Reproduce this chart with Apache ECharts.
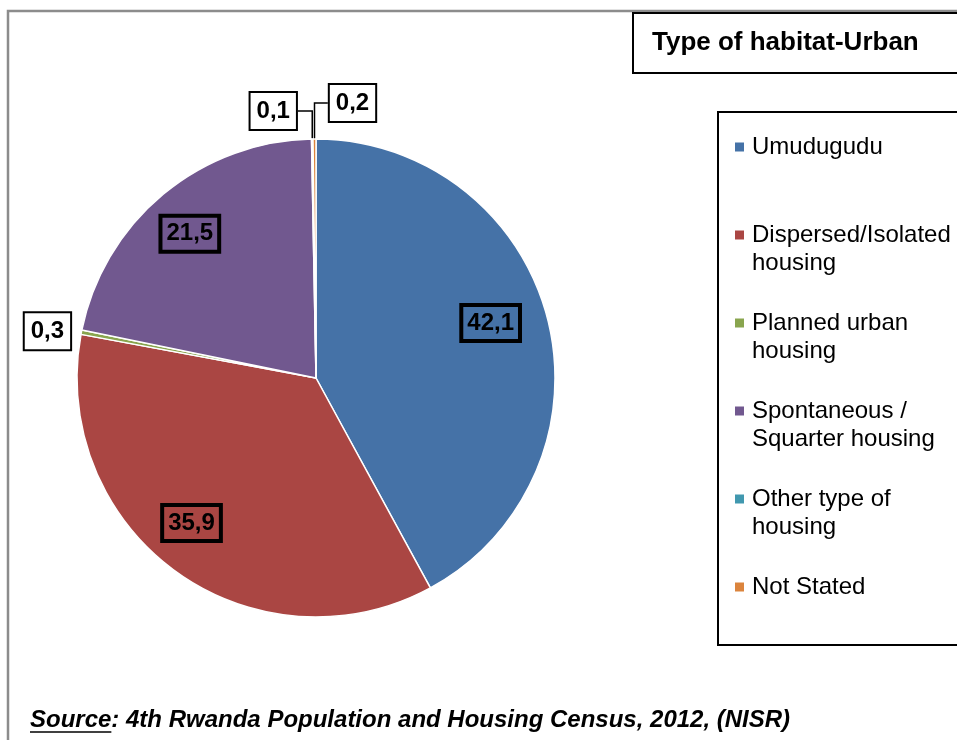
<!DOCTYPE html>
<html>
<head>
<meta charset="utf-8">
<script src="https://cdn.jsdelivr.net/npm/echarts@6/dist/echarts.min.js"></script>
<style>
html, body { margin: 0; padding: 0; background: #fff; }
#chart { width: 957px; height: 740px; }
</style>
</head>
<body>
<div id="chart"></div>
<script>
const categories = ['Umudugudu', 'Dispersed/Isolated\nhousing', 'Planned urban\nhousing', 'Spontaneous /\nSquarter housing', 'Other type of\nhousing', 'Not Stated']
const values = [42.1, 35.9, 0.3, 21.5, 0.1, 0.2]
const valueLabels = ['42,1', '35,9', '0,3', '21,5', '0,1', '0,2']
const colors = ['#4572A7', '#AA4643', '#89A54E', '#71588F', '#4198AF', '#DB843D']
const titleText = 'Type of habitat-Urban'
const sourceLabel = 'Source'
const sourceText = ': 4th Rwanda Population and Housing Census, 2012, (NISR)'

const FONT = "'Liberation Sans', Arial, sans-serif"
const cx = 316, cy = 378, R = 239
// where each value label sits: inside the slice or off the rim, plus a nudge
const labelPlace = [['in', -6, -9], ['in', -15, -6], ['out', -34, -1], ['in', -7, -1], ['out', -39, -28], ['out', 38, -36]]

const total = values.reduce((a, b) => a + b, 0)
const midAngles = []
let acc = 0
values.forEach(v => { midAngles.push((acc + v / 2) / total * Math.PI * 2); acc += v })

const chart = echarts.init(document.getElementById('chart'))

// legend: coloured square drawn as a rich token so it sits on the first line
const rich = {
  t: { fontSize: 24, lineHeight: 28, height: 28, padding: [0, 0, 0, 8], fontFamily: FONT, color: '#000' },
  s: { fontSize: 24, lineHeight: 28, height: 28, padding: [0, 0, 0, 17], fontFamily: FONT, color: '#000' },
}
colors.forEach((c, i) => { rich['i' + i] = { width: 9, height: 9, backgroundColor: c, lineHeight: 28 } })

// underline width for "Source"
const SRC_SIZE = 24
const ctx = document.createElement('canvas').getContext('2d')
ctx.font = `italic bold ${SRC_SIZE}px 'Liberation Sans'`
const underlineW = ctx.measureText(sourceLabel).width

const data = values.map((v, i) => {
  const out = labelPlace[i][0] === 'out'
  return {
    name: categories[i],
    value: v,
    label: {
      formatter: valueLabels[i],
      position: out ? 'outside' : 'inside',
      backgroundColor: out ? '#fff' : 'transparent',
    },
    labelLine: { show: out && i !== 2 },
  }
})

chart.setOption({
  animation: false,
  color: colors,
  title: {
    text: titleText,
    left: 633,
    top: 13,
    padding: [16, 60, 16, 19],
    borderColor: '#000',
    borderWidth: 2,
    textStyle: { fontSize: 26, fontWeight: 'bold', color: '#000', fontFamily: FONT, lineHeight: 28 },
  },
  legend: {
    orient: 'vertical',
    left: 718,
    top: 112,
    icon: 'none',
    itemWidth: 0,
    itemHeight: 9,
    itemGap: 32,
    borderColor: '#000',
    borderWidth: 2,
    padding: [21, 40, 16, 12],
    selectedMode: false,
    data: categories,
    formatter: name => {
      const i = categories.indexOf(name)
      const [l1, l2] = name.split('\n')
      return `{i${i}| }{t|${l1}}\n{s|${l2 || ' '}}`
    },
    textStyle: { rich },
  },
  graphic: [
    {
      type: 'rect', silent: true, z: -10,
      shape: { x: 8, y: 11, width: 1400, height: 1400 },
      style: { fill: 'none', stroke: '#8c8c8c', lineWidth: 2.5 },
    },
    {
      type: 'text', silent: true,
      style: {
        x: 30, y: 720, verticalAlign: 'middle',
        text: `{u|${sourceLabel}}{r|${sourceText}}`,
        rich: {
          u: { fontSize: SRC_SIZE, fontStyle: 'italic', fontWeight: 'bold', fontFamily: FONT, fill: '#000' },
          r: { fontSize: SRC_SIZE, fontStyle: 'italic', fontWeight: 'bold', fontFamily: FONT, fill: '#000' },
        },
      },
    },
    {
      type: 'line', silent: true,
      shape: { x1: 30, y1: 732, x2: 30 + underlineW, y2: 732 },
      style: { stroke: '#000', lineWidth: 1.5 },
    },
  ],
  series: [
    {
      name: 'Type of habitat-Urban',
      type: 'pie',
      center: [cx, cy],
      radius: [0, R],
      startAngle: 90,
      clockwise: true,
      avoidLabelOverlap: false,
      itemStyle: { borderColor: '#fff', borderWidth: 1.5 },
      label: {
        show: true,
        color: '#000',
        fontSize: 24,
        fontWeight: 'bold',
        fontFamily: FONT,
        lineHeight: 27,
        textBorderWidth: 0,
        textBorderColor: 'transparent',
        borderColor: '#000',
        borderWidth: 2,
        padding: [5, 6, 4, 6],
      },
      labelLine: { lineStyle: { color: '#000', width: 1.5 }, length: 10, length2: 10 },
      labelLayout: p => {
        const i = p.dataIndex
        const a = midAngles[i]
        const [mode, dx, dy] = labelPlace[i]
        const k = mode === 'in' ? 0.78 : 1
        const ax = cx + Math.sin(a) * R * k
        const ay = cy - Math.cos(a) * R * k
        const x = ax + dx, y = ay + dy
        const res = { x, y, align: 'center', verticalAlign: 'middle' }
        if (mode === 'out') {
          const w = p.labelRect.width / 2
          const ex = dx < 0 ? x + w : x - w
          res.labelLinePoints = [[ax, ay], [ax, y], [ex, y]]
        }
        return res
      },
      emphasis: { disabled: true },
      data,
    },
  ],
})

window.addEventListener('resize', () => chart.resize())
</script>
</body>
</html>
